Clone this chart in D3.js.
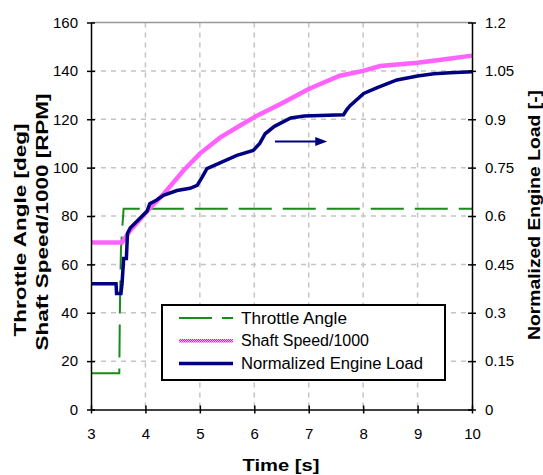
<!DOCTYPE html>
<html>
<head>
<meta charset="utf-8">
<script src="https://cdn.jsdelivr.net/npm/d3@7"></script>
<style>
  body { margin: 0; background: #fff; }
  text { font-family: "Liberation Sans", Arial, sans-serif; fill: #000; }
</style>
</head>
<body>
<div id="chart"></div>
<script>
// Data: [time s, value]
const throttle = [[3, 15], [3.52, 15], [3.53, 40], [3.55, 66], [3.58, 77], [3.6, 83], [10, 83]];
const shaftSpeed = [[3, 69], [3.57, 69], [3.72, 74], [3.9, 78.5], [4.03, 82], [4.33, 89], [4.7, 98.8],
  [5, 105.8], [5.37, 112.4], [5.74, 117.4], [6.05, 121.5], [6.5, 126.5], [7, 132.5], [7.57, 138],
  [8, 140], [8.31, 142], [9, 143.4], [9.5, 144.8], [10, 146.3]];
// normalized engine load (right axis)
const engineLoad = [[3, 0.39], [3.46, 0.39], [3.47, 0.36], [3.55, 0.36], [3.57, 0.39], [3.6, 0.468],
  [3.65, 0.468], [3.67, 0.546], [3.72, 0.5625], [3.9, 0.593], [4.03, 0.615], [4.08, 0.638], [4.2, 0.649],
  [4.33, 0.664], [4.58, 0.679], [4.82, 0.686], [4.95, 0.695], [5.04, 0.72], [5.13, 0.747], [5.37, 0.765],
  [5.68, 0.788], [5.98, 0.803], [6.1, 0.825], [6.2, 0.855], [6.37, 0.878], [6.67, 0.904], [6.92, 0.91],
  [7.64, 0.914], [7.7, 0.93], [7.76, 0.942], [8.01, 0.98], [8.26, 0.998], [8.62, 1.022], [9, 1.034],
  [9.3, 1.041], [9.6, 1.044], [10, 1.047]];

const xTicks = [3, 4, 5, 6, 7, 8, 9, 10];
const yTicks = [0, 20, 40, 60, 80, 100, 120, 140, 160];
const y2Ticks = [0, 0.15, 0.3, 0.45, 0.6, 0.75, 0.9, 1.05, 1.2];
const seriesNames = ["Throttle Angle", "Shaft Speed/1000", "Normalized Engine Load"];
const arrowFrom = [6.38, 110.8], arrowTo = [7.34, 110.8];

const W = 543, H = 475;
const margin = { top: 22.5, right: 71, bottom: 65.5, left: 91 };
const iw = W - margin.left - margin.right;
const ih = H - margin.top - margin.bottom;

const svg = d3.select("#chart").append("svg")
  .attr("width", W).attr("height", H);

// checkered texture for the shaft speed line
const defs = svg.append("defs");
const pat = defs.append("pattern")
  .attr("id", "pinkDots")
  .attr("patternUnits", "userSpaceOnUse")
  .attr("width", 2).attr("height", 2);
pat.append("rect").attr("width", 2).attr("height", 2).attr("fill", "#ffc4ff");
pat.append("rect").attr("width", 1).attr("height", 1).attr("fill", "#ff00ff");
pat.append("rect").attr("x", 1).attr("y", 1).attr("width", 1).attr("height", 1).attr("fill", "#ff00ff");

const g = svg.append("g").attr("transform", `translate(${margin.left},${margin.top})`);

const x = d3.scaleLinear().domain([3, 10]).range([0, iw]);
const y = d3.scaleLinear().domain([0, 160]).range([ih, 0]);
const y2 = d3.scaleLinear().domain([0, 1.2]).range([ih, 0]);

// grid
g.append("g").selectAll("line")
  .data(xTicks.slice(1, -1))
  .enter().append("line")
  .attr("x1", d => x(d)).attr("x2", d => x(d))
  .attr("y1", 0).attr("y2", ih)
  .attr("stroke", "#c4c4c4").attr("stroke-width", 1.5)
  .attr("stroke-dasharray", "5,5");
g.append("g").selectAll("line")
  .data(yTicks.slice(1, -1))
  .enter().append("line")
  .attr("x1", 0).attr("x2", iw)
  .attr("y1", d => y(d)).attr("y2", d => y(d))
  .attr("stroke", "#c4c4c4").attr("stroke-width", 1.5)
  .attr("stroke-dasharray", "5,5");

// top border
g.append("line")
  .attr("x1", 0).attr("x2", iw).attr("y1", 0).attr("y2", 0)
  .attr("stroke", "#999").attr("stroke-width", 1.5);

// series
const line = (sc) => d3.line().x(d => x(d[0])).y(d => sc(d[1]));

g.append("path")
  .datum(throttle)
  .attr("d", line(y))
  .attr("fill", "none")
  .attr("stroke", "#1a8a1a")
  .attr("stroke-width", 2)
  .attr("stroke-dasharray", "33,11");

g.append("path")
  .datum(shaftSpeed)
  .attr("d", line(y))
  .attr("fill", "none")
  .attr("stroke", "url(#pinkDots)")
  .attr("stroke-width", 4.5);

g.append("path")
  .datum(engineLoad)
  .attr("d", line(y2))
  .attr("fill", "none")
  .attr("stroke", "#000080")
  .attr("stroke-width", 3.5);

// arrow annotation
const ax1 = x(arrowFrom[0]), ax2 = x(arrowTo[0]), ay = y(arrowFrom[1]);
g.append("line")
  .attr("x1", ax1).attr("x2", ax2 - 8).attr("y1", ay).attr("y2", ay)
  .attr("stroke", "#000080").attr("stroke-width", 2);
g.append("path")
  .attr("d", `M${ax2},${ay} L${ax2 - 12},${ay - 4.5} L${ax2 - 12},${ay + 4.5} Z`)
  .attr("fill", "#000080");

// axes
const axisStyle = sel => {
  sel.select(".domain").attr("stroke", "#000").attr("stroke-width", 1.5);
  sel.selectAll(".tick line").attr("stroke", "#000").attr("stroke-width", 1.5);
  sel.selectAll(".tick text").style("font-size", "15px").attr("fill", "#000");
};

const xAxis = g.append("g")
  .attr("transform", `translate(0,${ih})`)
  .call(d3.axisBottom(x).tickValues(xTicks).tickSize(4).tickSizeOuter(0).tickFormat(d3.format("d")))
  .call(axisStyle);
xAxis.selectAll(".tick line").attr("y1", -4);
xAxis.selectAll(".tick text").attr("y", 19);

const yAxis = g.append("g")
  .call(d3.axisLeft(y).tickValues(yTicks).tickSize(4).tickSizeOuter(0))
  .call(axisStyle);
yAxis.selectAll(".tick line").attr("x1", 4);
yAxis.selectAll(".tick text").attr("x", -13);

const y2Axis = g.append("g")
  .attr("transform", `translate(${iw},0)`)
  .call(d3.axisRight(y2).tickValues(y2Ticks).tickSize(4).tickSizeOuter(0).tickFormat(d => d3.format("")(+d.toFixed(2))))
  .call(axisStyle);
y2Axis.selectAll(".tick line").attr("x1", -4);
y2Axis.selectAll(".tick text").attr("x", 13);

// axis titles
svg.append("text")
  .attr("transform", "translate(26,230) rotate(-90)")
  .attr("text-anchor", "middle")
  .style("font-size", "17px").style("font-weight", "bold")
  .attr("textLength", 213).attr("lengthAdjust", "spacingAndGlyphs")
  .text("Throttle Angle [deg]");
svg.append("text")
  .attr("transform", "translate(48,222) rotate(-90)")
  .attr("text-anchor", "middle")
  .style("font-size", "17px").style("font-weight", "bold")
  .attr("textLength", 257).attr("lengthAdjust", "spacingAndGlyphs")
  .text("Shaft Speed/1000 [RPM]");
svg.append("text")
  .attr("transform", "translate(540,215) rotate(-90)")
  .attr("text-anchor", "middle")
  .style("font-size", "17px").style("font-weight", "bold")
  .attr("textLength", 250).attr("lengthAdjust", "spacingAndGlyphs")
  .text("Normalized Engine Load [-]");
svg.append("text")
  .attr("x", 281).attr("y", 471)
  .attr("text-anchor", "middle")
  .style("font-size", "17px").style("font-weight", "bold")
  .attr("textLength", 77).attr("lengthAdjust", "spacingAndGlyphs")
  .text("Time [s]");

// legend
const legend = svg.append("g").attr("transform", "translate(162,305)");
legend.append("rect")
  .attr("width", 283).attr("height", 75)
  .attr("fill", "#fff").attr("stroke", "#000").attr("stroke-width", 2);

const legendRows = [
  { name: seriesNames[0], stroke: "#1a8a1a", width: 2, dash: "33,10" },
  { name: seriesNames[1], stroke: "url(#pinkDots)", width: 3.5, dash: null },
  { name: seriesNames[2], stroke: "#000080", width: 3.5, dash: null }
];
const textLens = [106, 128, 182];
legendRows.forEach((r, i) => {
  const ry = 13 + i * 22.7;
  legend.append("line")
    .attr("x1", 17).attr("x2", 71).attr("y1", ry).attr("y2", ry)
    .attr("stroke", r.stroke).attr("stroke-width", r.width)
    .attr("stroke-dasharray", r.dash);
  legend.append("text")
    .attr("x", 79).attr("y", ry + 5.5)
    .style("font-size", "16px")
    .attr("textLength", textLens[i]).attr("lengthAdjust", "spacingAndGlyphs")
    .text(r.name);
});
</script>
</body>
</html>
